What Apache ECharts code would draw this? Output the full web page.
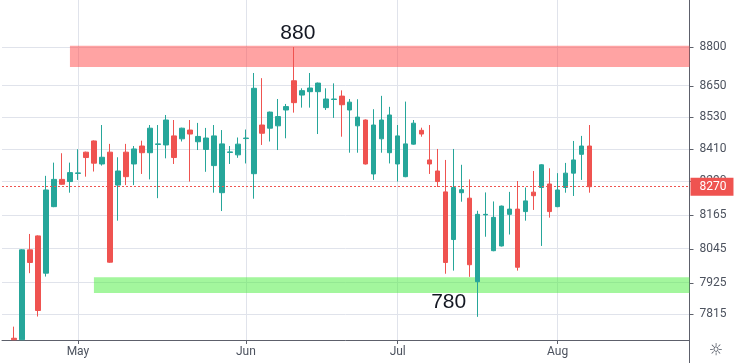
<!DOCTYPE html>
<html><head><meta charset="utf-8">
<script src="https://cdn.jsdelivr.net/npm/echarts@6/dist/echarts.min.js"></script>
<style>html,body{margin:0;padding:0;background:#fff}#c{width:740px;height:363px}</style>
</head><body><div id="c"></div>
<script>
const categories = [
 '2020-04-20','2020-04-21','2020-04-22','2020-04-23','2020-04-24','2020-04-27','2020-04-28','2020-04-29','2020-04-30',
 '2020-05-01','2020-05-04','2020-05-05','2020-05-06','2020-05-07','2020-05-08','2020-05-11','2020-05-12','2020-05-13','2020-05-14','2020-05-15',
 '2020-05-18','2020-05-19','2020-05-20','2020-05-21','2020-05-22','2020-05-25','2020-05-26','2020-05-27','2020-05-28','2020-05-29',
 '2020-06-01','2020-06-02','2020-06-03','2020-06-04','2020-06-05','2020-06-08','2020-06-09','2020-06-11','2020-06-12',
 '2020-06-15','2020-06-16','2020-06-17','2020-06-18','2020-06-22','2020-06-23','2020-06-24','2020-06-26','2020-06-29','2020-06-30',
 '2020-07-01','2020-07-02','2020-07-06','2020-07-07','2020-07-08','2020-07-09','2020-07-13','2020-07-14','2020-07-15','2020-07-16',
 '2020-07-17','2020-07-20','2020-07-21','2020-07-22','2020-07-23','2020-07-27','2020-07-28','2020-07-29','2020-07-30','2020-07-31',
 '2020-08-03','2020-08-04','2020-08-05','2020-08-06','2020-08-07','2020-08-10','2020-08-11','2020-08-12','2020-08-13','2020-08-14',
 '2020-08-17','2020-08-18','2020-08-19','2020-08-20','2020-08-21','2020-08-24','2020-08-25'
];
const firstBar = 1; // first category that has a candle
const openV  = [7731,7726,8041,8091,7958,8197,8297,8289,8319,8398,8440,8354,8398,8276,8398,8354,8421,8396,8427,8425,8459,8448,8481,8437,8408,8348,8248,8397,8388,8449,8318,8500,8488,8497,8557,8669,8614,8627,8627,8566,8597,8610,8557,8497,8519,8317,8448,8396,8354,8307,8428,8480,8369,8328,8251,8078,8248,8228,7928,8167,8038,8055,8169,8188,8179,8250,8267,8280,8197,8267,8320,8390,8421];
const closeV = [7726,8041,7996,7827,8258,8297,8279,8322,8321,8378,8357,8379,7997,8328,8307,8410,8396,8488,8429,8519,8378,8488,8466,8457,8451,8459,8429,8399,8428,8451,8640,8469,8549,8532,8570,8585,8631,8641,8660,8599,8599,8577,8587,8530,8354,8500,8519,8538,8459,8429,8507,8466,8354,8289,7996,8267,8259,7988,8169,8169,8158,8199,8188,7979,8218,8237,8351,8179,8258,8320,8369,8421,8270];
const lowV   = [7726,7726,7958,7806,7946,8195,8277,8248,8295,8307,8326,8348,7995,8146,8276,8276,8317,8297,8228,8375,8354,8438,8289,8406,8325,8248,8181,8354,8377,8356,8226,8425,8438,8406,8450,8547,8566,8566,8466,8557,8527,8456,8396,8396,8352,8295,8396,8356,8289,8305,8426,8456,8317,8269,7956,7967,8215,7945,7805,8088,8036,8053,8096,7967,8146,8185,8055,8157,8195,8248,8236,8295,8248];
const highV  = [7771,8043,8098,8093,8310,8359,8394,8359,8409,8400,8442,8500,8429,8379,8429,8421,8441,8500,8500,8538,8519,8490,8519,8508,8489,8500,8481,8421,8453,8483,8699,8679,8551,8599,8580,8800,8640,8699,8662,8640,8659,8632,8599,8598,8521,8560,8611,8569,8500,8589,8519,8490,8500,8410,8369,8410,8351,8297,8182,8249,8216,8201,8251,8291,8267,8328,8353,8338,8320,8358,8440,8459,8500];
const priceTicks = [8800,8650,8530,8410,8290,8165,8045,7925,7815];
const cutTick = 9000;
const yRange = [7725, 8986];
const monthNames = ['Jan','Feb','Mar','Apr','May','Jun','Jul','Aug','Sep','Oct','Nov','Dec'];
const lastPrice = 8270;
const resistanceBand = {from: 8, top: 8805, bottom: 8722};
const supportBand = {from: 11, top: 7944, bottom: 7888};
const notes = [{text:'880', bar: 36, value: 8800}, {text:'780', bar: 59, value: 7805}];

const candleData = categories.map((c, i) => {
  const k = i - firstBar;
  if (k < 0 || k >= openV.length) return '-';
  return [openV[k], closeV[k], lowV[k], highV[k]];
});
const monthStarts = [];
categories.forEach((c, i) => { if (i > 0 && c.slice(5,7) !== categories[i-1].slice(5,7)) monthStarts.push(i); });

const UP = '#26a69a', DOWN = '#ef5350', GRID = '#e0e3eb', AXIS = '#5d606b', TXT = '#4c525e';
const FONT = 'Roboto, "Liberation Sans", sans-serif';

const chart = echarts.init(document.getElementById('c'), null, {renderer: 'canvas'});
chart.setOption({
  animation: false,
  grid: {left: 2, right: 50.5, top: 0, bottom: 23},
  xAxis: {
    type: 'category', data: categories, boundaryGap: true,
    axisLine: {lineStyle: {color: AXIS, width: 1}},
    axisTick: {show: true, alignWithLabel: true, length: 4, interval: (i) => monthStarts.includes(i), lineStyle: {color: AXIS}},
    axisLabel: {interval: (i) => monthStarts.includes(i), formatter: (v) => monthNames[parseInt(v.slice(5,7),10)-1],
      color: TXT, fontSize: 12, fontFamily: FONT, margin: 6},
    splitLine: {show: false}
  },
  yAxis: {
    type: 'log', logBase: 10, min: yRange[0], max: yRange[1], position: 'right',
    axisLine: {show: true, lineStyle: {color: AXIS, width: 1}},
    axisTick: {show: false}, axisLabel: {show: false}, splitLine: {show: false}
  },
  series: [
    {
      type: 'line', data: [], silent: true,
      markLine: {
        silent: true, z: 0, symbol: ['none','none'], animation: false,
        lineStyle: {color: GRID, width: 1, type: 'solid'},
        label: {show: true, position: 'end', distance: 10, color: TXT, fontSize: 12, fontFamily: FONT},
        data: priceTicks.map(v => ({yAxis: v, label: {formatter: String(v)}}))
          .concat(monthStarts.map(i => ({xAxis: categories[i], label: {show: false}})))
      }
    },
    {
      type: 'candlestick', data: candleData, barWidth: 5, clip: true,
      itemStyle: {color: UP, color0: DOWN, borderColor: UP, borderColor0: DOWN, borderWidth: 1},
      markArea: {
        silent: true, z: 1,
        data: [
          [{xAxis: categories[resistanceBand.from], yAxis: resistanceBand.top, itemStyle: {color: 'rgba(255,72,72,0.5)'}}, {yAxis: resistanceBand.bottom}],
          [{xAxis: categories[supportBand.from], yAxis: supportBand.top, itemStyle: {color: 'rgba(72,238,60,0.5)'}}, {yAxis: supportBand.bottom}]
        ]
      },
      markLine: {
        silent: true, z: 3, symbol: ['none','none'], animation: false,
        data: [{yAxis: lastPrice,
          lineStyle: {color: DOWN, width: 1, type: [2,2]},
          label: {show: true, position: 'end', distance: 1, formatter: String(lastPrice), color: '#fff',
            backgroundColor: DOWN, padding: [3,7,3,9], fontSize: 12, lineHeight: 12, fontFamily: FONT}}]
      },
      markPoint: {
        silent: true, z: 4, symbol: 'circle', symbolSize: 1, itemStyle: {color: 'rgba(0,0,0,0)'},
        label: {show: true, color: '#131722', fontSize: 21, fontFamily: '"Liberation Sans", Arial, sans-serif'},
        data: [
          {coord: [categories[notes[0].bar], notes[0].value], label: {position: 'top', distance: 3, offset: [4, 0], formatter: notes[0].text}},
          {coord: [categories[notes[1].bar], notes[1].value], label: {position: 'inside', offset: [-29, -15], formatter: notes[1].text}}
        ]
      }
    }
  ]
});

// right-axis tick marks, clipped top label and corner icon
const gfx = [];
priceTicks.forEach(v => {
  const y = Math.round(chart.convertToPixel({yAxisIndex: 0}, v)) + 0.5;
  gfx.push({type: 'line', shape: {x1: 689.5, y1: y, x2: 693.5, y2: y}, style: {stroke: AXIS, lineWidth: 1}, z: 0});
});
const yCut = chart.convertToPixel({yAxisIndex: 0}, cutTick);
gfx.push({type: 'text', x: 699.5, y: yCut, style: {text: String(cutTick), fill: TXT, font: '12px ' + FONT, textVerticalAlign: 'middle'}, z: 0});
gfx.push({type: 'line', shape: {x1: 689.5, y1: 340, x2: 689.5, y2: 363}, style: {stroke: AXIS, lineWidth: 1}});
gfx.push({type: 'text', x: 716, y: 351, style: {text: '\u263C', fill: TXT, font: '16px "DejaVu Sans"', textAlign: 'center', textVerticalAlign: 'middle'}});
chart.setOption({graphic: gfx});
</script>
</body></html>
